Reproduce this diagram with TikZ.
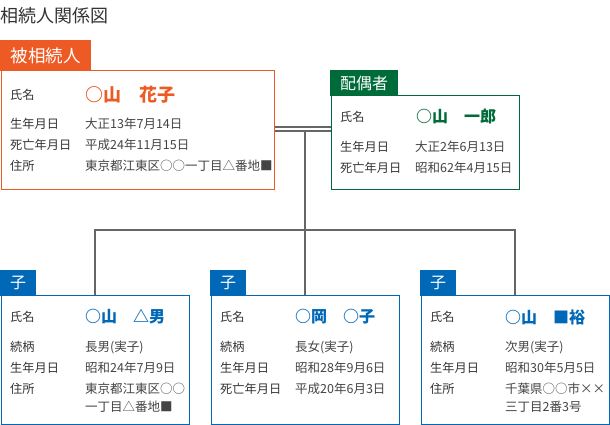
\documentclass[tikz,border=0pt]{standalone}
\usepackage{fontspec}
\setmainfont{Noto Sans CJK JP}
\usetikzlibrary{positioning}

\definecolor{deccol}{HTML}{EE5A24}
\definecolor{spcol}{HTML}{006B3A}
\definecolor{chcol}{HTML}{0068B7}
\definecolor{txtgray}{HTML}{333333}
\definecolor{valgray}{HTML}{444444}
\definecolor{linegray}{HTML}{666666}

\begin{document}
\begin{tikzpicture}[x=1pt, y=-1pt,
  box/.style={draw, line width=1.2pt, fill=white, anchor=north west, inner sep=0pt},
  decbox/.style={box, draw=deccol, minimum width=273pt, minimum height=119pt},
  spbox/.style={box, draw=spcol, minimum width=188pt, minimum height=94pt},
  chbox/.style={box, draw=chcol, minimum width=188pt, minimum height=128.5pt},
  tag/.style={anchor=north west, inner sep=0pt, text=white, minimum height=25.6pt},
  dectag/.style={tag, fill=deccol, minimum width=91pt, minimum height=30.6pt, font=\fontsize{17.5}{20}\selectfont},
  sptag/.style={tag, fill=spcol, minimum width=68pt, font=\fontsize{16}{18}\selectfont},
  chtag/.style={tag, fill=chcol, minimum width=36pt, font=\fontsize{16}{18}\selectfont},
  lbl/.style={anchor=west, inner sep=0pt, text=txtgray, font=\fontsize{12.2}{18}\selectfont},
  val/.style={anchor=west, inner sep=0pt, text=valgray, align=left, font=\fontsize{12.5}{18}\selectfont},
  pname/.style={anchor=west, inner sep=0pt, font=\bfseries\fontsize{16}{18}\selectfont},
  link/.style={draw=linegray, line width=2pt},
  marriage/.style={draw=linegray, double=white, line width=1.9pt, double distance=1.8pt}
]
\useasboundingbox (0,0) rectangle (610,425);

\node[anchor=west, inner sep=0pt, text=txtgray, font=\fontsize{18}{20}\selectfont] (title) at (0,16) {相続人関係図};

% 被相続人
\node[decbox] (dec) at (0.6,70) {};
\node[dectag] (dectag) at (0,40) {被相続人};
\node[lbl] (dec-l1) at (10,95) {氏名};
\node[pname, text=deccol, font=\bfseries\fontsize{18}{20}\selectfont] (dec-v1) at (85,95) {○山　花子};
\node[lbl] (dec-l2) at (10,124) {生年月日};
\node[val] (dec-v2) at (85,124) {大正13年7月14日};
\node[lbl] (dec-l3) at (10,145) {死亡年月日};
\node[val] (dec-v3) at (85,145) {平成24年11月15日};
\node[lbl] (dec-l4) at (10,166) {住所};
\node[val] (dec-v4) at (85,166) {東京都江東区○○一丁目△番地■};

% 配偶者
\node[spbox] (sp) at (330.6,95) {};
\node[sptag] (sptag) at (330,70) {配偶者};
\node[lbl] (sp-l1) at (340,117) {氏名};
\node[pname, text=spcol] (sp-v1) at (416,117) {○山　一郎};
\node[lbl] (sp-l2) at (340,147) {生年月日};
\node[val] (sp-v2) at (415,147) {大正2年6月13日};
\node[lbl] (sp-l3) at (340,168) {死亡年月日};
\node[val] (sp-v3) at (415,168) {昭和62年4月15日};

% 子
\node[chbox] (ch1) at (0.6,295) {};
\node[chtag] (ch1tag) at (0,270) {子};
\node[lbl] (ch1-l1) at (10,317) {氏名};
\node[pname, text=chcol] (ch1-v1) at (85,317) {○山　△男};
\node[lbl] (ch1-l2) at (10,347) {続柄};
\node[val] (ch1-v2) at (85,347) {長男(実子)};
\node[lbl] (ch1-l3) at (10,368) {生年月日};
\node[val] (ch1-v3) at (85,368) {昭和24年7月9日};
\node[lbl] (ch1-l4) at (10,389) {住所};
\node[val] (ch1-v4) at (85,398) {東京都江東区○○\\一丁目△番地■};

\node[chbox] (ch2) at (210.6,295) {};
\node[chtag] (ch2tag) at (210,270) {子};
\node[lbl] (ch2-l1) at (220,317) {氏名};
\node[pname, text=chcol] (ch2-v1) at (295,317) {○岡　○子};
\node[lbl] (ch2-l2) at (220,347) {続柄};
\node[val] (ch2-v2) at (295,347) {長女(実子)};
\node[lbl] (ch2-l3) at (220,368) {生年月日};
\node[val] (ch2-v3) at (295,368) {昭和28年9月6日};
\node[lbl] (ch2-l4) at (220,389) {死亡年月日};
\node[val] (ch2-v4) at (295,389) {平成20年6月3日};

\node[chbox] (ch3) at (420.6,295) {};
\node[chtag] (ch3tag) at (420,270) {子};
\node[lbl] (ch3-l1) at (430,317) {氏名};
\node[pname, text=chcol] (ch3-v1) at (505,317) {○山　■裕};
\node[lbl] (ch3-l2) at (430,347) {続柄};
\node[val] (ch3-v2) at (505,347) {次男(実子)};
\node[lbl] (ch3-l3) at (430,368) {生年月日};
\node[val] (ch3-v3) at (505,368) {昭和30年5月5日};
\node[lbl] (ch3-l4) at (430,389) {住所};
\node[val] (ch3-v4) at (505,398) {千葉県○○市××\\三丁目2番3号};

% lines
\coordinate (wed) at (ch2.north |- 0,129);
\coordinate (fork) at (ch2.north |- 0,230);
\draw[link] (wed) -- (ch2.north);
\draw[link] (ch1.north) |- (fork) -| (ch3.north);
\draw[marriage] (dec.east |- wed) -- (sp.west |- wed);
\end{tikzpicture}
\end{document}
